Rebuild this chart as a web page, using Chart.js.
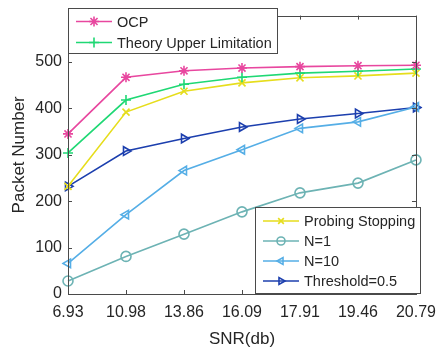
<!DOCTYPE html>
<html><head><meta charset="utf-8">
<script src="https://cdn.jsdelivr.net/npm/chart.js@4/dist/chart.umd.min.js"></script>
<style>html,body{margin:0;padding:0;background:#fff}#wrap{width:445px;height:350px}</style>
</head><body><div id="wrap"><canvas id="c" width="445" height="350"></canvas></div>
<script>
const snrLabels = ['6.93','10.98','13.86','16.09','17.91','19.46','20.79'];
const ocp        = [345, 467, 481, 487, 490, 492, 493];
const theoryUpper= [304, 418, 452, 467, 476, 480, 485];
const probing    = [232, 392, 437, 455, 466, 470, 476];
const n1         = [28, 81, 129, 177, 218, 239, 289];
const n10        = [66, 171, 266, 311, 357, 371, 403];
const threshold  = [232, 308, 335, 360, 377, 389, 402];
const yTicks = [0, 100, 200, 300, 400, 500];

const FONT = '"Liberation Sans", Arial, Helvetica, sans-serif';
const TXT = '#262626';
const AX = '#4a4a4a';

function ds(label, data, color, style, rot) {
  return { label, data, borderColor: color, backgroundColor: 'rgba(0,0,0,0)',
    borderWidth: 1.6, pointStyle: style, pointRotation: rot || 0, pointRadius: 5,
    pointBorderWidth: 1.6, pointHoverRadius: 5, tension: 0, fill: false };
}
const datasets = [
  ds('OCP', ocp, '#e8479f', 'star'),
  ds('Theory Upper Limitation', theoryUpper, '#1fd874', 'cross'),
  ds('Probing Stopping', probing, '#e6dd1c', 'crossRot'),
  ds('N=1', n1, '#6db3b4', 'circle'),
  ds('N=10', n10, '#55aee6', 'triangle', -90),
  ds('Threshold=0.5', threshold, '#1c3fae', 'triangle', 90)
];

function drawMarker(ctx, d, x, y, r) {
  ctx.save();
  ctx.strokeStyle = d.borderColor; ctx.fillStyle = 'rgba(0,0,0,0)'; ctx.lineWidth = d.pointBorderWidth;
  Chart.helpers.drawPoint(ctx, {pointStyle: d.pointStyle, rotation: d.pointRotation, radius: r, borderWidth: d.pointBorderWidth}, x, y);
  ctx.restore();
}

const framePlugin = {
  id: 'frame',
  afterDraw(chart) {
    const ctx = chart.ctx, a = chart.chartArea;
    const xs = chart.scales.x, ys = chart.scales.y;
    ctx.save();
    ctx.strokeStyle = AX; ctx.lineWidth = 1;
    ctx.strokeRect(Math.round(a.left)+0.5, Math.round(a.top)+0.5, Math.round(a.right-a.left), Math.round(a.bottom-a.top));
    ctx.beginPath();
    for (let i = 0; i < snrLabels.length; i++) {
      const x = Math.round(xs.getPixelForValue(i)) + 0.5;
      ctx.moveTo(x, a.bottom); ctx.lineTo(x, a.bottom - 4);
      ctx.moveTo(x, a.top); ctx.lineTo(x, a.top + 4);
    }
    for (const v of yTicks) {
      const y = Math.round(ys.getPixelForValue(v)) + 0.5;
      ctx.moveTo(a.left, y); ctx.lineTo(a.left + 4, y);
      ctx.moveTo(a.right, y); ctx.lineTo(a.right - 4, y);
    }
    ctx.stroke();
    // legends
    const boxes = [
      {x: 68, y: 8, w: 209, h: 45, items: [0, 1], rows: [21.5, 42.5], lx: 76, r: 5},
      {x: 255, y: 207, w: 165, h: 86, items: [2, 3, 4, 5], rows: [221, 241, 261, 281], lx: 263, r: 4}
    ];
    for (const b of boxes) {
      ctx.fillStyle = '#fff';
      ctx.fillRect(b.x, b.y, b.w, b.h);
      ctx.strokeStyle = AX; ctx.lineWidth = 1;
      ctx.strokeRect(b.x + 0.5, b.y + 0.5, b.w, b.h);
      b.items.forEach((idx, k) => {
        const d = chart.data.datasets[idx], y = b.rows[k];
        ctx.strokeStyle = d.borderColor; ctx.lineWidth = d.borderWidth;
        ctx.beginPath(); ctx.moveTo(b.lx, y); ctx.lineTo(b.lx + 36, y); ctx.stroke();
        drawMarker(ctx, d, b.lx + 18, y, b.r);
        ctx.fillStyle = TXT; ctx.font = '14.5px ' + FONT;
        ctx.textBaseline = 'middle'; ctx.textAlign = 'left';
        ctx.fillText(d.label, b.lx + 41, y + 1);
      });
    }
    ctx.restore();
  }
};

new Chart(document.getElementById('c'), {
  type: 'line',
  data: { labels: snrLabels, datasets },
  options: {
    responsive: false, animation: false, devicePixelRatio: 1,
    layout: { padding: { top: 8, right: 23, left: 0, bottom: 0 } },
    plugins: { legend: { display: false }, tooltip: { enabled: false } },
    scales: {
      x: {
        type: 'category', offset: false,
        grid: { display: false, drawTicks: false },
        border: { display: false },
        ticks: { color: TXT, font: { family: FONT, size: 16 }, padding: 9, maxRotation: 0, autoSkip: false },
        title: { display: true, text: 'SNR(db)', color: TXT, font: { family: FONT, size: 17 }, padding: { top: 3, bottom: 0 } },
        afterFit(s) { s.height = 56; }
      },
      y: {
        min: 0, max: 600,
        afterBuildTicks(s) { s.ticks = yTicks.map(v => ({ value: v })); },
        grid: { display: false, drawTicks: false },
        border: { display: false },
        ticks: { color: TXT, font: { family: FONT, size: 16 }, padding: 6 },
        title: { display: true, text: 'Packet Number', color: TXT, font: { family: FONT, size: 17 }, padding: { top: 9, bottom: 0 } },
        afterFit(s) { s.width = 68; }
      }
    }
  },
  plugins: [framePlugin]
});
</script>
</body></html>
